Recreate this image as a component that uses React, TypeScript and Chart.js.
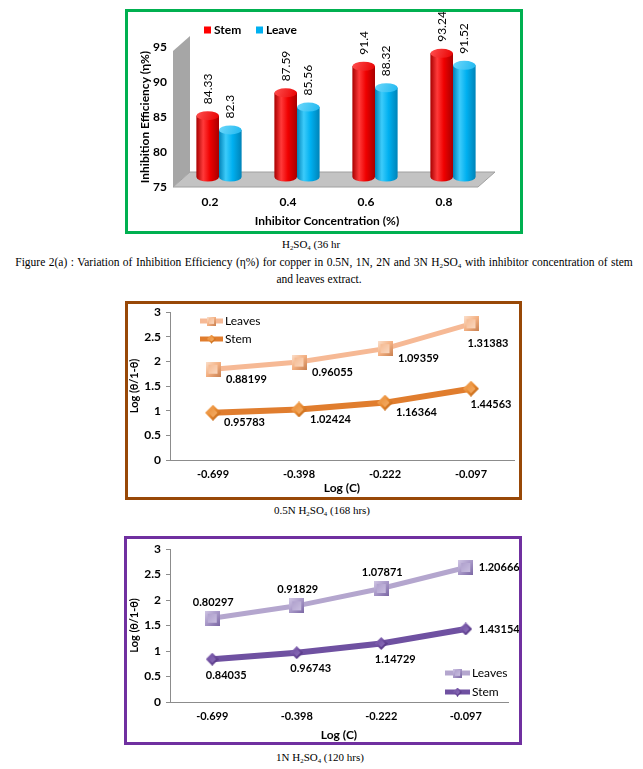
import { useEffect, useRef } from 'react';
import { Chart, registerables } from 'chart.js';

Chart.register(...registerables);

const FONT = 'Lato, "Open Sans", sans-serif';
const SERIF = '"Liberation Serif", "Times New Roman", serif';

// ---- Chart 1: inhibition efficiency ----
const concLabels = ['0.2', '0.4', '0.6', '0.8'];
const stemEfficiency = [84.33, 87.59, 91.4, 93.24];
const leaveEfficiency = [82.3, 85.56, 88.32, 91.52];
const efficiencySeriesNames = ['Stem', 'Leave'];

// ---- Chart 2 / 3: Log(θ/1-θ) vs Log(C) (stacked lines) ----
const logCLabels = ['-0.699', '-0.398', '-0.222', '-0.097'];
const stem05N = [0.95783, 1.02424, 1.16364, 1.44563];
const leaves05N = [0.88199, 0.96055, 1.09359, 1.31383];
const stem1N = [0.84035, 0.96743, 1.14729, 1.43154];
const leaves1N = [0.80297, 0.91829, 1.07871, 1.20666];
const lineSeriesNames = ['Leaves', 'Stem'];

const CYL = [
  { dark: '#A80000', light: '#FF3A3A', mid: '#F00000', top: '#E80000', topLight: '#FF5050' },
  { dark: '#0083B8', light: '#3CCBFA', mid: '#00B0F0', top: '#1FB8F0', topLight: '#6ED8FB' },
];

function makeMarker(shape: string, size: number, base: string, dark: string, light: string) {
  const c = document.createElement('canvas');
  c.width = size;
  c.height = size;
  const g = c.getContext('2d')!;
  const path = (inset: number) => {
    g.beginPath();
    if (shape === 'square') {
      g.rect(inset, inset, size - 2 * inset, size - 2 * inset);
    } else {
      const h = size / 2;
      g.moveTo(h, inset);
      g.lineTo(size - inset, h);
      g.lineTo(h, size - inset);
      g.lineTo(inset, h);
      g.closePath();
    }
  };
  const lg = g.createLinearGradient(0, 0, size, size);
  lg.addColorStop(0, light);
  lg.addColorStop(0.5, base);
  lg.addColorStop(1, dark);
  path(0);
  g.fillStyle = lg;
  g.fill();
  const inset = shape === 'square' ? size * 0.2 : size * 0.22;
  const ig = g.createLinearGradient(0, 0, size, size);
  ig.addColorStop(0, base);
  ig.addColorStop(1, light);
  path(inset);
  g.fillStyle = ig;
  g.fill();
  return c;
}

const cylinderPlugin = {
  id: 'cylinder3d',
  beforeDatasetsDraw(chart: any) {
    const { ctx, chartArea: a } = chart;
    const dx = 17;
    const dy = 15;
    ctx.save();
    ctx.fillStyle = '#A6A6A6';
    ctx.beginPath();
    ctx.moveTo(a.left + 2, a.bottom);
    ctx.lineTo(a.left + 2, a.top + 4);
    ctx.lineTo(a.left + 2 + dx, a.top + 4 - dy);
    ctx.lineTo(a.left + 2 + dx, a.bottom - dy);
    ctx.closePath();
    ctx.fill();
    ctx.fillStyle = '#C3C3C3';
    ctx.beginPath();
    ctx.moveTo(a.left + 2, a.bottom);
    ctx.lineTo(a.right - 5, a.bottom);
    ctx.lineTo(a.right - 5 + dx, a.bottom - dy);
    ctx.lineTo(a.left + 2 + dx, a.bottom - dy);
    ctx.closePath();
    ctx.fill();
    ctx.strokeStyle = '#A0A0A0';
    ctx.lineWidth = 1;
    ctx.stroke();
    ctx.restore();
  },
  afterDatasetsDraw(chart: any) {
    const { ctx } = chart;
    const yScale = chart.scales.y;
    const basePx = yScale.getPixelForValue(yScale.min);
    ctx.save();
    ctx.translate(9, -6);
    const n = chart.data.labels.length;
    for (let i = 0; i < n; i++) {
      chart.data.datasets.forEach((ds: any, di: number) => {
        const el = chart.getDatasetMeta(di).data[i];
        const col = CYL[di];
        const w = el.width;
        const l = el.x - w / 2;
        const r = el.x + w / 2;
        const ry = 4.5;
        const top = el.y;
        const bot = basePx - 4;
        const g = ctx.createLinearGradient(l, 0, r, 0);
        g.addColorStop(0, col.dark);
        g.addColorStop(0.3, col.light);
        g.addColorStop(0.6, col.mid);
        g.addColorStop(1, col.dark);
        ctx.fillStyle = g;
        ctx.beginPath();
        ctx.moveTo(l, top);
        ctx.lineTo(l, bot);
        ctx.ellipse(el.x, bot, w / 2, ry, 0, Math.PI, 0, true);
        ctx.lineTo(r, top);
        ctx.closePath();
        ctx.fill();
        const tg = ctx.createLinearGradient(l, top - ry, r, top + ry);
        tg.addColorStop(0, col.topLight);
        tg.addColorStop(1, col.top);
        ctx.fillStyle = tg;
        ctx.beginPath();
        ctx.ellipse(el.x, top, w / 2, ry, 0, 0, Math.PI * 2);
        ctx.fill();
        // value label
        ctx.save();
        ctx.translate(el.x, top - ry - 7);
        ctx.rotate(-Math.PI / 2);
        ctx.fillStyle = '#000';
        ctx.font = `12px ${FONT}`;
        ctx.textAlign = 'left';
        ctx.textBaseline = 'middle';
        ctx.fillText(String(ds.data[i]), 0, 0);
        ctx.restore();
      });
    }
    ctx.restore();
  },
  afterDraw(chart: any) {
    const { ctx, chartArea: a } = chart;
    ctx.save();
    ctx.font = `bold 12px ${FONT}`;
    ctx.textBaseline = 'middle';
    ctx.textAlign = 'left';
    const y = a.top - 17;
    const items = [
      { x: a.left + 33, color: '#FF0000', name: chart.data.datasets[0].label },
      { x: a.left + 85, color: '#00B0F0', name: chart.data.datasets[1].label },
    ];
    items.forEach((it) => {
      ctx.fillStyle = it.color;
      ctx.fillRect(it.x, y - 3.5, 7, 7);
      ctx.fillStyle = '#000';
      ctx.fillText(it.name, it.x + 10, y);
    });
    ctx.restore();
  },
};

const fixY = (w: number) => (s: any) => {
  s.width = w;
  s.paddingTop = 0;
  s.paddingBottom = 0;
};
const fixX = (h: number) => (s: any) => {
  s.height = h;
  s.paddingLeft = 0;
  s.paddingRight = 0;
};

function barConfig() {
  const tickFont = { family: FONT, size: 12, weight: 'bold' };
  return {
    type: 'bar',
    data: {
      labels: concLabels,
      datasets: [
        { label: efficiencySeriesNames[0], data: stemEfficiency, backgroundColor: 'rgba(0,0,0,0)', borderWidth: 0, categoryPercentage: 0.58, barPercentage: 1 },
        { label: efficiencySeriesNames[1], data: leaveEfficiency, backgroundColor: 'rgba(0,0,0,0)', borderWidth: 0, categoryPercentage: 0.58, barPercentage: 1 },
      ],
    },
    options: {
      responsive: false,
      animation: false,
      layout: { autoPadding: false, padding: { top: 35, right: 37, left: 0, bottom: 0 } },
      plugins: { legend: { display: false }, tooltip: { enabled: false } },
      scales: {
        x: {
          grid: { display: false, drawTicks: false },
          border: { display: false },
          ticks: { color: '#000', font: tickFont, padding: 8 },
          title: { display: true, text: 'Inhibitor Concentration (%)', color: '#000', font: tickFont, padding: { top: 0, bottom: 3 } },
          afterFit: fixX(44),
        },
        y: {
          min: 75,
          max: 95,
          grid: { display: false, drawTicks: false },
          border: { display: false },
          ticks: { stepSize: 5, color: '#000', font: tickFont, padding: 4 },
          title: { display: true, text: 'Inhibition Efficiency (η%)', color: '#000', font: tickFont, padding: { top: 10, bottom: 0 } },
          afterFit: fixY(43),
        },
      },
    },
    plugins: [cylinderPlugin],
  };
}

function makeLinePlugin(spec: any) {
  return {
    id: 'lineExtras',
    afterDatasetsDraw(chart: any) {
      const { ctx } = chart;
      ctx.save();
      ctx.font = `bold 11px ${FONT}`;
      ctx.fillStyle = '#000';
      ctx.textBaseline = 'middle';
      chart.data.datasets.forEach((ds: any, di: number) => {
        const meta = chart.getDatasetMeta(di);
        meta.data.forEach((pt: any, i: number) => {
          const p = spec.labelPos(ds.label, i, pt.x, pt.y);
          ctx.textAlign = p.align;
          ctx.fillText(String(ds.data[i]), p.x, p.y);
        });
      });
      ctx.restore();
    },
    afterDraw(chart: any) {
      const { ctx, chartArea: a } = chart;
      const L = spec.legend(a);
      ctx.save();
      ctx.font = `12px ${FONT}`;
      ctx.textBaseline = 'middle';
      ctx.textAlign = 'left';
      L.rows.forEach((row: any) => {
        const ds = chart.data.datasets.find((d: any) => d.label === row.name);
        ctx.strokeStyle = ds.borderColor;
        ctx.lineWidth = 5;
        ctx.beginPath();
        ctx.moveTo(L.x1, row.y);
        ctx.lineTo(L.x2, row.y);
        ctx.stroke();
        const s = row.size;
        ctx.drawImage(ds.pointStyle, (L.x1 + L.x2) / 2 - s / 2, row.y - s / 2, s, s);
        ctx.fillStyle = '#000';
        ctx.fillText(row.name, L.x2 + 2, row.y + 0.5);
      });
      ctx.restore();
    },
  };
}

function lineConfig(spec: any) {
  const tickFont = { family: FONT, size: 12, weight: 'bold' };
  const xTickFont = { family: FONT, size: 11, weight: 'bold' };
  const stemMarker = makeMarker('diamond', spec.stemMarker.size, spec.stemMarker.base, spec.stemMarker.dark, spec.stemMarker.light);
  const leavesMarker = makeMarker('square', spec.leavesMarker.size, spec.leavesMarker.base, spec.leavesMarker.dark, spec.leavesMarker.light);
  return {
    type: 'line',
    data: {
      labels: logCLabels,
      datasets: [
        {
          label: lineSeriesNames[1], data: spec.stem, borderColor: spec.stemColor, borderWidth: 6,
          pointStyle: stemMarker, pointRadius: 8, tension: 0, fill: false, clip: false,
        },
        {
          label: lineSeriesNames[0], data: spec.leaves, borderColor: spec.leavesColor, borderWidth: 5,
          pointStyle: leavesMarker, pointRadius: 8, tension: 0, fill: false, clip: false,
        },
      ],
    },
    options: {
      responsive: false,
      animation: false,
      layout: { autoPadding: false, padding: { top: spec.padTop, right: spec.padRight, left: 0, bottom: 0 } },
      plugins: { legend: { display: false }, tooltip: { enabled: false } },
      scales: {
        x: {
          offset: true,
          grid: { display: false, drawTicks: false },
          border: { display: true, color: '#8C8C8C', width: 1 },
          ticks: { color: '#000', font: xTickFont, padding: 8 },
          title: { display: true, text: 'Log (C)', color: '#000', font: tickFont, padding: { top: 0, bottom: spec.xTitlePad } },
          afterFit: fixX(spec.xHeight),
        },
        y: {
          stacked: true,
          min: 0,
          max: 3,
          grid: { drawOnChartArea: false, drawTicks: true, tickLength: 4, color: '#8C8C8C' },
          border: { display: true, color: '#8C8C8C', width: 1 },
          ticks: { stepSize: 0.5, color: '#000', font: tickFont, padding: 5, callback: (v: any) => String(v) },
          title: { display: true, text: 'Log (θ/1-θ)', color: '#000', font: { family: FONT, size: 11, weight: 'bold' }, padding: { top: spec.yTitlePad, bottom: 0 } },
          afterFit: fixY(spec.yWidth),
        },
      },
    },
    plugins: [makeLinePlugin(spec)],
  };
}

const spec05 = {
  stem: stem05N,
  leaves: leaves05N,
  stemColor: '#E07D2E',
  leavesColor: '#F6B995',
  stemMarker: { size: 16, base: '#E8892F', dark: '#B05A12', light: '#F8B878' },
  leavesMarker: { size: 15, base: '#F4B183', dark: '#C98050', light: '#FCE2CF' },
  yWidth: 42, xHeight: 37, padTop: 8, padRight: 5, yTitlePad: 0, xTitlePad: 2,
  labelPos: (name: string, i: number, x: number, y: number) => {
    if (name === 'Leaves') return i < 3 ? { align: 'left', x: x + 13, y: y + 10 } : { align: 'center', x: x + 17, y: y + 20 };
    return i < 3 ? { align: 'left', x: x + 11, y: y + 10 } : { align: 'center', x: x + 20, y: y + 16 };
  },
  legend: (a: any) => ({
    x1: a.left + 30, x2: a.left + 53,
    rows: [{ name: 'Leaves', y: a.top + 9, size: 9 }, { name: 'Stem', y: a.top + 27, size: 9 }],
  }),
};

const spec1 = {
  stem: stem1N,
  leaves: leaves1N,
  stemColor: '#6F51A1',
  leavesColor: '#B4A6CE',
  stemMarker: { size: 13, base: '#6B4A9C', dark: '#462A72', light: '#9579C2' },
  leavesMarker: { size: 15, base: '#A797C7', dark: '#7A66A3', light: '#D2C8E6' },
  yWidth: 43, xHeight: 40, padTop: 10, padRight: 11, yTitlePad: 1, xTitlePad: 0,
  labelPos: (name: string, i: number, x: number, y: number) => {
    if (name === 'Leaves') return i < 3 ? { align: 'center', x: x + 1, y: y - 16 } : { align: 'left', x: x + 13, y };
    return i < 3 ? { align: 'center', x: x + 14, y: y + 16 } : { align: 'left', x: x + 13, y };
  },
  legend: (a: any) => ({
    x1: a.right - 63, x2: a.right - 38,
    rows: [{ name: 'Leaves', y: a.bottom - 29, size: 9 }, { name: 'Stem', y: a.bottom - 10, size: 9 }],
  }),
};

const Sub = ({ children }: any) => (
  <span style={{ fontSize: '0.62em', position: 'relative', top: '0.22em' }}>{children}</span>
);

const capStyle = (cx: number, cy: number, w: number, size = 11, extra: any = {}): any => ({
  position: 'absolute',
  left: cx - w / 2,
  top: cy - 7,
  width: w,
  height: 14,
  lineHeight: '14px',
  textAlign: 'center',
  whiteSpace: 'nowrap',
  fontFamily: SERIF,
  fontSize: size,
  color: '#000',
  ...extra,
});

const boxStyle = (l: number, t: number, r: number, b: number, color: string): any => ({
  position: 'absolute',
  left: l,
  top: t,
  width: r - l,
  height: b - t,
  boxSizing: 'border-box',
  border: `3px solid ${color}`,
});

export default function App() {
  const c1 = useRef<HTMLCanvasElement>(null);
  const c2 = useRef<HTMLCanvasElement>(null);
  const c3 = useRef<HTMLCanvasElement>(null);

  useEffect(() => {
    const charts = [
      new Chart(c1.current as any, barConfig() as any),
      new Chart(c2.current as any, lineConfig(spec05) as any),
      new Chart(c3.current as any, lineConfig(spec1) as any),
    ];
    return () => charts.forEach((c) => c.destroy());
  }, []);

  const canvasStyle = (l: number, t: number, w: number, h: number): any => ({
    position: 'absolute', left: l, top: t, width: w, height: h,
  });

  return (
    <div style={{ position: 'absolute', left: 0, top: 0, width: 643, height: 769, overflow: 'hidden', background: '#fff' }}>
      <div style={boxStyle(125, 9, 523, 234, '#00B050')} />
      <canvas ref={c1} width={392} height={219} style={canvasStyle(128, 12, 392, 219)} />
      <div style={capStyle(311, 244, 200)}>H<Sub>2</Sub>SO<Sub>4</Sub> (36 hr</div>
      <div style={capStyle(324, 262, 636, 11.5, { wordSpacing: '0.6px' })}>
        Figure 2(a) : Variation of Inhibition Efficiency (η%) for copper in 0.5N, 1N, 2N and 3N H<Sub>2</Sub>SO<Sub>4</Sub> with inhibitor concentration of stem
      </div>
      <div style={capStyle(319, 279, 300, 11.5)}>and leaves extract.</div>

      <div style={boxStyle(125, 301, 522, 500, '#984807')} />
      <canvas ref={c2} width={391} height={193} style={canvasStyle(128, 304, 391, 193)} />
      <div style={capStyle(322, 510, 300)}>0.5N H<Sub>2</Sub>SO<Sub>4</Sub> (168 hrs)</div>

      <div style={boxStyle(124, 536, 522, 745, '#7030A0')} />
      <canvas ref={c3} width={392} height={203} style={canvasStyle(127, 539, 392, 203)} />
      <div style={capStyle(320, 757, 300)}>1N H<Sub>2</Sub>SO<Sub>4</Sub> (120 hrs)</div>
    </div>
  );
}
